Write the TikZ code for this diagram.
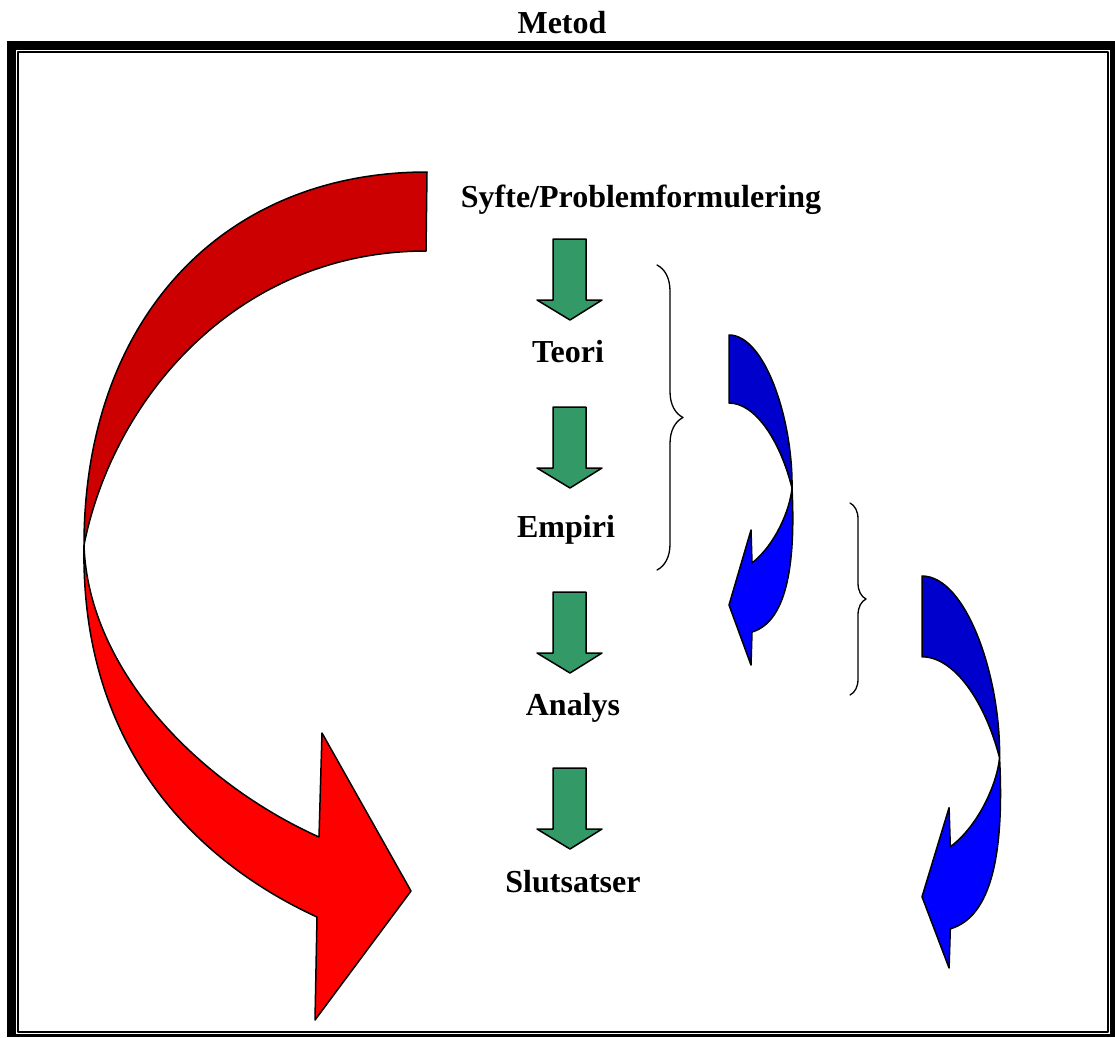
\documentclass[tikz,border=0pt]{standalone}
\usepackage{fontspec}
\setmainfont{Liberation Serif}
\usetikzlibrary{decorations.pathreplacing}

\definecolor{redtop}{HTML}{CC0000}
\definecolor{redlow}{HTML}{FF0000}
\definecolor{bluetop}{HTML}{0000CC}
\definecolor{bluelow}{HTML}{0000FF}
\definecolor{greenarr}{HTML}{339966}

\begin{document}
\begin{tikzpicture}[line cap=round,line join=round,x=1pt,y=-1pt,
  lbl/.style={font=\fontsize{32}{38}\selectfont\bfseries,anchor=base,inner sep=0pt},
  blk/.style={draw=black,line width=1.5pt},
  bracel/.style={decorate,line width=1.3pt}]
\useasboundingbox (0,0) rectangle (1115,1037);

% frame
\fill[black] (7,41) rectangle (1115,1037);
\fill[white] (16,50) rectangle (1110,1034);
\draw[line width=2pt] (18,52) rectangle (1108,1032);
\node[lbl] (metod) at (562,33) {Metod};

% big red arrow
\draw[blk,fill=redtop] (427,172) .. controls (221,172) and (84,321) .. (84,545)
  .. controls (114,395) and (240,251) .. (426,251) -- cycle;
\draw[blk,fill=redlow] (84,545) .. controls (80,760) and (210,868) .. (317,917)
  -- (315,1020) -- (411,891) -- (322,733) -- (319,837)
  .. controls (199,783) and (88,670) .. (84,545) -- cycle;

% steps
\node[lbl] (syfte) at (641,207) {Syfte/Problemformulering};
\node[lbl] (teori) at (568,362) {Teori};
\node[lbl] (empiri) at (566,537) {Empiri};
\node[lbl] (analys) at (573,715) {Analys};
\node[lbl] (slutsatser) at (573,892) {Slutsatser};

\foreach \yt in {239,407,592,768}
  \draw[blk,fill=greenarr] (553,\yt) -- (553,\yt+61) -- (537,\yt+61) -- (570,\yt+81)
    -- (602,\yt+61) -- (586,\yt+61) -- (586,\yt) -- cycle;

% braces
\draw[bracel,decoration={brace,amplitude=26pt}] (657,265) -- (657,570);
\draw[bracel,decoration={brace,amplitude=16pt}] (850,503) -- (850,695);

% blue arrows
\foreach \ox/\oy/\sx/\sy in {729/335/1/1,922/576/1.2308/1.1879}{
\begin{scope}[shift={(\ox,\oy)},xscale=\sx,yscale=\sy]
\draw[blk,fill=bluetop] (0,0) .. controls (36,0) and (64,85) .. (63,153)
  .. controls (51,105) and (26,68) .. (0,68) -- cycle;
\draw[blk,fill=bluelow] (63,153) .. controls (67,235) and (56,287) .. (23,297)
  -- (22,330) -- (0,270) -- (22,195) -- (23,228)
  .. controls (46,210) and (61,175) .. (63,153) -- cycle;
\end{scope}}
\end{tikzpicture}
\end{document}
